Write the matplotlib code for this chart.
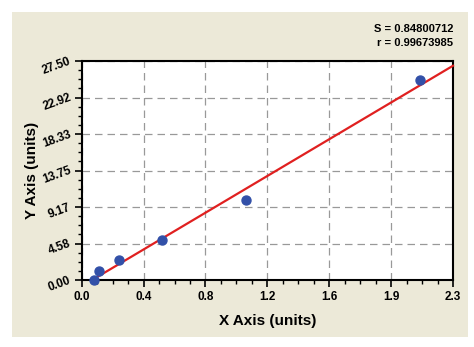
import numpy as np
import matplotlib
matplotlib.use("Agg")
import matplotlib.pyplot as plt
from matplotlib.ticker import AutoMinorLocator

plt.rcParams['font.family'] = ['Liberation Sans', 'DejaVu Sans']

# data
x_vals = [0.078, 0.107, 0.231, 0.50, 1.016, 2.096]
y_vals = [0.0, 1.13, 2.51, 5.02, 10.05, 25.1]
x_max = 2.3
y_max = 27.5
x_ticklabels = ['0.0', '0.4', '0.8', '1.2', '1.6', '1.9', '2.3']
y_ticklabels = ['0.00', '4.58', '9.17', '13.75', '18.33', '22.92', '27.50']
s_text = 'S = 0.84800712'
r_text = 'r = 0.99673985'

W, H = 474, 347
fig = plt.figure(figsize=(W / 100, H / 100), dpi=100)
fig.patch.set_facecolor('white')

# beige panel behind everything
bg = fig.add_axes([12 / W, 1 - 337 / H, (468 - 12) / W, (337 - 12) / H], zorder=-1)
bg.set_facecolor('#ECE9D8')
bg.set_xticks([])
bg.set_yticks([])
for sp in bg.spines.values():
    sp.set_visible(False)

ax = fig.add_axes([81.7 / W, 1 - 280 / H, (453 - 81.7) / W, (280 - 61) / H], zorder=1)
ax.set_facecolor('white')
ax.set_xlim(0, x_max)
ax.set_ylim(0, y_max)

ax.set_xticks(np.linspace(0, x_max, len(x_ticklabels)))
ax.set_xticklabels(x_ticklabels, fontsize=8.5, fontweight='bold')
ax.set_yticks(np.linspace(0, y_max, len(y_ticklabels)))
ax.set_yticklabels(y_ticklabels, fontsize=8.5, fontweight='bold', rotation=20,
                   rotation_mode='anchor', ha='right', va='center')
ax.xaxis.set_minor_locator(AutoMinorLocator(4))
ax.yaxis.set_minor_locator(AutoMinorLocator(4))
ax.tick_params(which='major', direction='out', length=5, width=1.2, pad=3)
ax.tick_params(which='minor', direction='out', length=3, width=1.0)
for sp in ax.spines.values():
    sp.set_linewidth(1.5)

ax.grid(True, which='major', linestyle=(0, (6, 4)), color='#999999', linewidth=0.9)
ax.set_axisbelow(True)

# linear fit
k, b = np.polyfit(x_vals, y_vals, 1)
xl = np.array([min(x_vals) - 0.006, x_max])
ax.plot(xl, k * xl + b, color='#E02020', linewidth=1.6, zorder=3, clip_on=False)
ax.scatter(x_vals, y_vals, s=42, color='#3250A8', zorder=4, clip_on=False)

ax.set_xlabel('X Axis (units)', fontsize=11, fontweight='bold', labelpad=8)
ax.set_ylabel('Y Axis (units)', fontsize=11, fontweight='bold', labelpad=0)
ax.yaxis.set_label_coords(-0.115, 0.5)

fig.text(453 / W, 1 - 29 / H, s_text, ha='right', va='center', fontsize=8, fontweight='bold')
fig.text(453 / W, 1 - 43 / H, r_text, ha='right', va='center', fontsize=8, fontweight='bold')

fig.savefig('out.png', dpi=100)
